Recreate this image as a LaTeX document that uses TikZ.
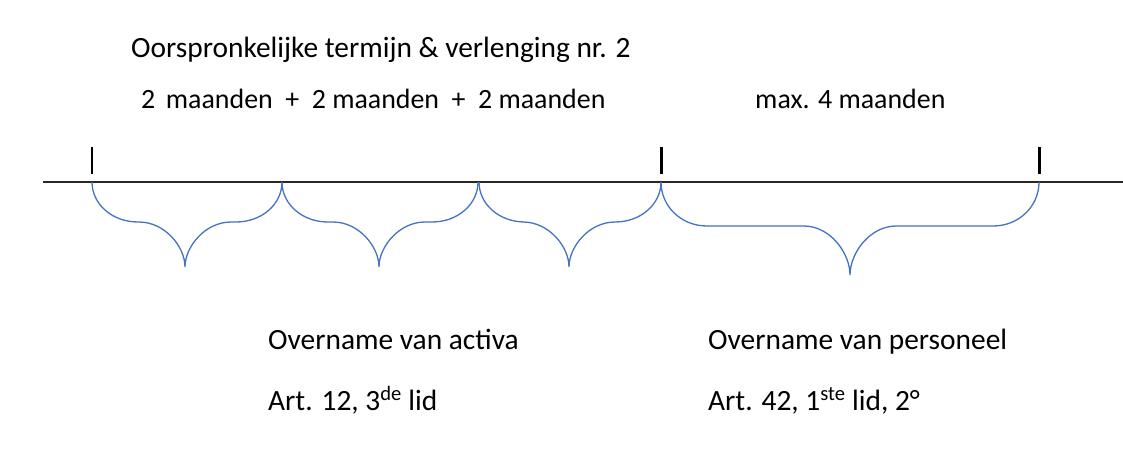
\documentclass[tikz,border=0pt]{standalone}
\usepackage{fontspec}
\setmainfont{Carlito}
\definecolor{bracecol}{RGB}{68,114,196}
\definecolor{axiscol}{RGB}{40,40,40}

% accolade: start x, tip x, end x, arm depth, tip depth
\newcommand{\accolade}[5]{%
  \draw[brace] ({#1},182) .. controls ({#1},{182+0.55*#4}) and ({#1+20},{182+#4}) .. ({#1+46},{182+#4})
    -- ({#2-46},{182+#4}) .. controls ({#2-20},{182+#4}) and ({#2},{182+#4+0.55*(#5-#4)}) .. ({#2},{182+#5})
    .. controls ({#2},{182+#4+0.55*(#5-#4)}) and ({#2+20},{182+#4}) .. ({#2+46},{182+#4})
    -- ({#3-46},{182+#4}) .. controls ({#3-20},{182+#4}) and ({#3},{182+0.55*#4}) .. ({#3},182);}

\begin{document}
\begin{tikzpicture}[x=1pt,y=-1pt,
        brace/.style={draw=bracecol,line width=1.3pt},
        marker/.style={line width=3pt},
        label/.style={anchor=base west,inner sep=0pt,font=\fontsize{29.4}{35}\selectfont},
        period/.style={label,font=\fontsize{27.9}{34}\selectfont}]

  \useasboundingbox (0,0) rectangle (1123,466);

  \node[label] (titel) at (131,57) {Oorspronkelijke termijn \& verlenging nr. 2};
  \node[period] (duur) at (141,108) {2\hspace{0.38em}maanden\hspace{0.45em}+\hspace{0.45em}2 maanden\hspace{0.45em}+\hspace{0.45em}2 maanden};
  \node[period] (max) at (755,108) {max. 4 maanden};

  \coordinate (begin) at (43,182);
  \coordinate (einde) at (1123,182);
  \draw[axiscol,line width=2pt] (begin) -- (einde);

  \draw[line width=1.5pt] (92,147) -- (92,174);
  \draw[marker] (661,147) -- (661,174);
  \draw[marker] (1039,147) -- (1039,174);

  \accolade{92}{185}{282}{40}{85}
  \accolade{282}{379}{478}{40}{85}
  \accolade{479}{569}{661}{40}{85}
  \accolade{661}{850}{1039}{44}{93}

  \node[label] (activa) at (268,349) {Overname van activa};
  \node[label] (personeel) at (708,349) {Overname van personeel};
  \node[label] (art12) at (268,410) {Art. 12, 3\textsuperscript{de} lid};
  \node[label] (art42) at (708,410) {Art. 42, 1\textsuperscript{ste} lid, 2°};

\end{tikzpicture}
\end{document}
